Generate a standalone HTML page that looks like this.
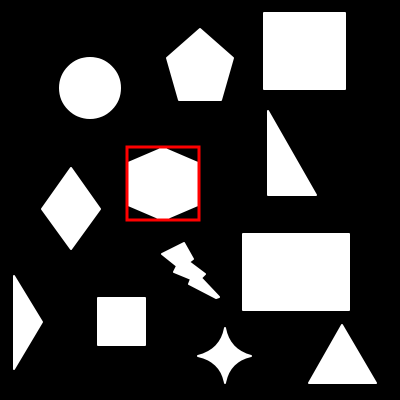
<!DOCTYPE html>
<html><head><style>html,body{margin:0;background:#000;width:400px;height:400px;overflow:hidden}</style></head>
<body>
<svg width="400" height="400" viewBox="0 0 400 400">
<rect width="400" height="400" fill="#000"/>
<g fill="#fff" stroke="#fff" stroke-width="2" stroke-linejoin="round">
<circle cx="90" cy="88" r="30"/>
<polygon points="200,29 233,58 221,100 179,100 167,58"/>
<rect x="264" y="13" width="81" height="76"/>
<polygon points="268,111 268,195 316,195"/>
<polygon points="71,168 100,209 71,249 42,209"/>
<polygon points="163,148 198,163 198,205 163,220 128,205 128,163"/>
<polygon points="162,254 184,243 193,259 189,262 205,274 201,278 219,297 216,298 189,284 191,279 174,272 177,266"/>
<rect x="243" y="234" width="106" height="76"/>
<polygon points="14,276 42,322 14,369"/>
<rect x="98" y="298" width="47" height="47"/>
<path d="M225,328 Q229,350 251,356 Q229,361 225,383 Q221,361 198,356 Q221,350 225,328Z"/>
<polygon points="342,325 376,383 309,383"/>
</g>
<rect x="127" y="147" width="72" height="73" fill="none" stroke="#ff0000" stroke-width="3"/>
</svg>
</body></html>
